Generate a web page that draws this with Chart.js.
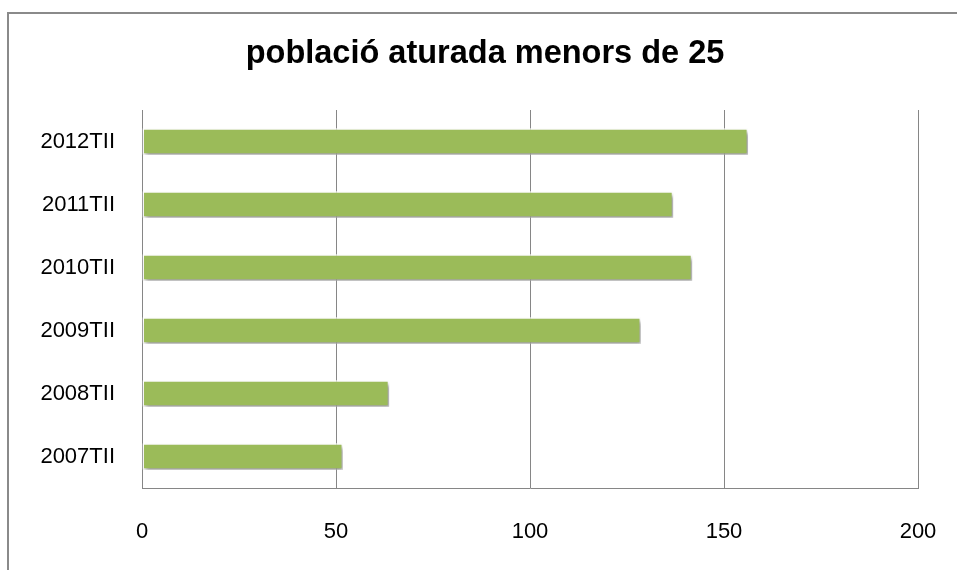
<!DOCTYPE html>
<html>
<head>
<meta charset="utf-8">
<script src="https://cdn.jsdelivr.net/npm/chart.js@4.4.0/dist/chart.umd.min.js"></script>
<style>
  html, body { margin: 0; padding: 0; background: #fff; overflow: hidden; }
  #frame { position: absolute; left: 7px; top: 12px; width: 1000px; height: 600px;
           border-left: 2px solid #8a8a8a; border-top: 2px solid #8a8a8a; box-sizing: border-box; }
  #wrap { position: absolute; left: 0; top: 0; width: 957px; height: 570px; }
</style>
</head>
<body>
<div id="frame"></div>
<div id="wrap"><canvas id="chart"></canvas></div>
<script>
// values (thousands)
const periods = ["2007TII", "2008TII", "2009TII", "2010TII", "2011TII", "2012TII"];
const unemployedUnder25 = [51.8, 63.7, 128.6, 141.8, 136.9, 156.2];
const xTicks = [0, 50, 100, 150, 200];
const chartTitle = "població aturada menors de 25";

const gridGray = "#868686";

// soft drop shadow under the bars, like the office chart
const barShadow = {
  id: "barShadow",
  beforeDatasetDraw(chart){
    const ctx = chart.ctx;
    ctx.save();
    ctx.shadowColor = "rgba(0,0,0,0.4)";
    ctx.shadowBlur = 4;
    ctx.shadowOffsetX = 2;
    ctx.shadowOffsetY = 3;
  },
  afterDatasetDraw(chart){ chart.ctx.restore(); }
};

// title sits centred on the whole frame, not on the canvas
const frameTitle = {
  id: "frameTitle",
  afterDraw(chart){
    const ctx = chart.ctx;
    ctx.save();
    ctx.font = "bold 32.5px 'Liberation Sans'";
    ctx.fillStyle = "#000";
    ctx.textAlign = "center";
    ctx.textBaseline = "alphabetic";
    ctx.fillText(chartTitle, 485, 63);
    ctx.restore();
  }
};

const ctx = document.getElementById("chart").getContext("2d");
new Chart(ctx, {
  type: "bar",
  data: {
    labels: periods,
    datasets: [{
      data: unemployedUnder25,
      backgroundColor: "#9bbb59",
      borderColor: "#ffffff",
      borderWidth: 1.5,
      borderSkipped: false,
      barPercentage: 0.42,
      categoryPercentage: 1
    }]
  },
  options: {
    indexAxis: "y",
    responsive: true,
    maintainAspectRatio: false,
    animation: false,
    layout: { padding: { left: 0, right: 39, top: 110, bottom: 0 } },
    plugins: {
      legend: { display: false },
      tooltip: { enabled: false },
      title: { display: false }
    },
    scales: {
      x: {
        min: 0, max: 200,
        afterBuildTicks(scale){ scale.ticks = xTicks.map(v => ({ value: v })); },
        afterFit(scale){ scale.height = 82; scale.paddingRight = 0; scale.paddingLeft = 0; },
        grid: { color: gridGray, lineWidth: 1, drawTicks: false },
        border: { color: gridGray, width: 1 },
        ticks: { color: "#000", padding: 31, font: { family: "Liberation Sans", size: 22 } }
      },
      y: {
        reverse: true,
        afterFit(scale){ scale.width = 142; },
        grid: { display: false, drawTicks: false },
        border: { color: gridGray, width: 1 },
        ticks: { color: "#000", padding: 27, font: { family: "Liberation Sans", size: 22 } }
      }
    }
  },
  plugins: [barShadow, frameTitle]
});
</script>
</body>
</html>
